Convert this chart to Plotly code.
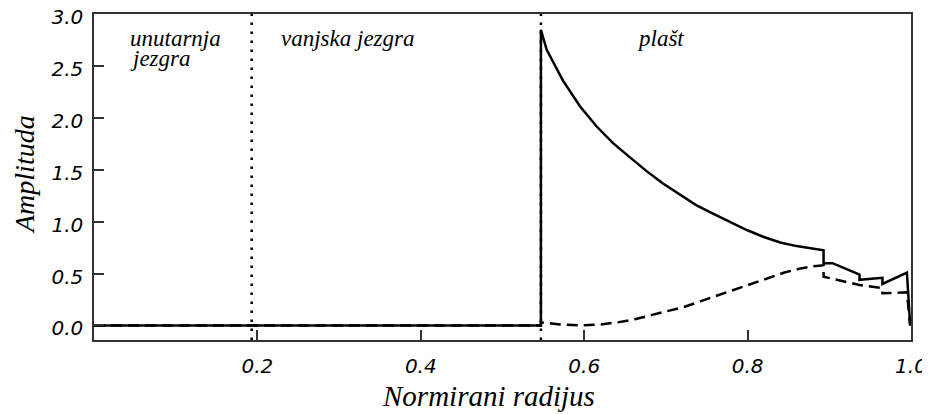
import plotly.graph_objects as go

# --- data ---
solid_x = [0.0, 0.547, 0.547, 0.554, 0.574, 0.595, 0.615, 0.635, 0.656, 0.676, 0.696, 0.717,
           0.737, 0.757, 0.778, 0.799, 0.819, 0.840, 0.860, 0.880, 0.893,
           0.893, 0.904, 0.937, 0.937, 0.965, 0.965, 0.995, 0.999]
solid_y = [0.0, 0.0, 2.85, 2.66, 2.36, 2.11, 1.92, 1.76, 1.62, 1.49, 1.37, 1.26,
           1.16, 1.08, 1.00, 0.92, 0.855, 0.80, 0.765, 0.74, 0.725,
           0.60, 0.60, 0.49, 0.44, 0.46, 0.40, 0.51, 0.0]

dashed_x = [0.0, 0.547, 0.547, 0.570, 0.596, 0.620, 0.641, 0.662, 0.682, 0.703, 0.723, 0.743,
            0.763, 0.784, 0.804, 0.825, 0.845, 0.865, 0.880, 0.893,
            0.893, 0.937, 0.965, 0.965, 0.995, 0.999]
dashed_y = [0.0, 0.0, 0.03, 0.01, 0.0, 0.01, 0.03, 0.06, 0.10, 0.14, 0.18, 0.235,
            0.29, 0.345, 0.40, 0.455, 0.51, 0.55, 0.57, 0.58,
            0.47, 0.39, 0.36, 0.31, 0.32, 0.0]

boundaries = [0.193, 0.547]
x_ticks = [0.2, 0.4, 0.6, 0.8, 1.0]
x_tick_labels = ["0.2", "0.4", "0.6", "0.8", "1.0"]
y_ticks = [0.0, 0.5, 1.0, 1.5, 2.0, 2.5, 3.0]
y_tick_labels = ["0.0", "0.5", "1.0", "1.5", "2.0", "2.5", "3.0"]

region_labels = [("unutarnja", 0.042, 2.77), ("jezgra", 0.042, 2.575),
                 ("vanjska jezgra", 0.226, 2.77), ("plašt", 0.662, 2.77)]
x_title = "Normirani radijus"
y_title = "Amplituda"

SERIF = "Liberation Serif"
SANS = "DejaVu Sans"

# page offset from default body margin
OFF = 8
W, H = 930, 414
L, T = 94 - OFF, 14 - OFF
R = W - (911 - OFF)
B = H - (340 - OFF)
pw, ph = W - L - R, H - T - B


def paper_x(px):
    return (px - OFF - L) / pw


def paper_y(py):
    return (H - B - (py - OFF)) / ph


fig = go.Figure()
fig.add_trace(go.Scatter(x=dashed_x, y=dashed_y, mode="lines",
                         line=dict(color="black", width=2.5, dash="11px,6px"),
                         showlegend=False, hoverinfo="skip"))
fig.add_trace(go.Scatter(x=solid_x, y=solid_y, mode="lines",
                         line=dict(color="black", width=2.5),
                         showlegend=False, hoverinfo="skip"))

for b in boundaries:
    fig.add_shape(type="line", xref="x", yref="paper", x0=b, x1=b, y0=0, y1=1,
                  line=dict(color="black", width=2.5, dash="2.5px,6.5px"), layer="below")

for txt, x, y in region_labels:
    fig.add_annotation(text=f"<i>{txt}</i>", x=x, y=y, xref="x", yref="y",
                       xanchor="left", yanchor="middle", showarrow=False,
                       font=dict(family=SERIF, size=23, color="black"))

fig.add_annotation(text=f"<i>{x_title}</i>", x=paper_x(488), y=paper_y(396),
                   xref="paper", yref="paper", showarrow=False,
                   xanchor="center", yanchor="middle",
                   font=dict(family=SERIF, size=29, color="black"))
fig.add_annotation(text=f"<i>{y_title}</i>", x=paper_x(24), y=paper_y(175),
                   xref="paper", yref="paper", showarrow=False, textangle=-90,
                   xanchor="center", yanchor="middle",
                   font=dict(family=SERIF, size=28, color="black"))

axis_common = dict(showline=True, linecolor="#333", linewidth=1.5, mirror=True,
                   ticks="inside", tickcolor="#333", tickwidth=1.5, ticklen=10,
                   showgrid=False, zeroline=False, automargin=False,
                   ticklabeloverflow="allow",
                   tickfont=dict(family=SANS, size=20, color="black"))

fig.update_xaxes(range=[0, 1.0], tickvals=x_ticks,
                 ticktext=[f"<i>{t}</i>" for t in x_tick_labels],
                 ticklabelstandoff=7, **axis_common)
fig.update_yaxes(range=[-0.14, 3.002], tickvals=y_ticks,
                 ticktext=[f"<i>{t}</i>" for t in y_tick_labels],
                 ticklabelstandoff=5, ticklabelshift=3, **axis_common)

fig.update_layout(width=W, height=H, margin=dict(l=L, r=R, t=T, b=B, pad=0),
                  plot_bgcolor="white", paper_bgcolor="white")

fig.write_html("out.html")
